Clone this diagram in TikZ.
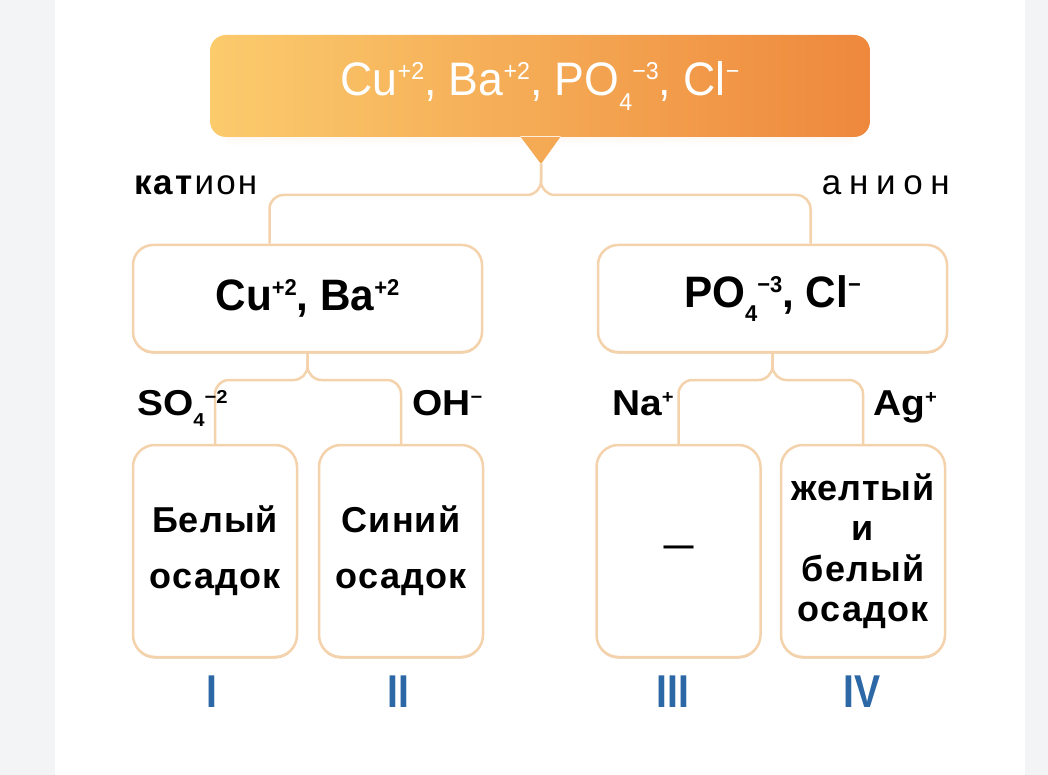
\documentclass[tikz,border=0pt]{standalone}
\usepackage{fontspec}
\setmainfont{Liberation Sans}
\newfontfamily\topfont[FakeStretch=0.95]{Liberation Sans}
\newfontfamily\midfont[FakeStretch=0.96]{Liberation Sans}
\newfontfamily\narrowfont[FakeStretch=0.85]{Liberation Sans}
\newfontfamily\spacedfont[LetterSpace=6]{Liberation Sans}
\newfontfamily\widespaced[LetterSpace=22]{Liberation Sans}
\newfontfamily\boxfont[LetterSpace=3]{Liberation Sans}
\newfontfamily\ionfont[FakeStretch=1.08]{Liberation Sans}
\usetikzlibrary{shadows}
\definecolor{bggray}{HTML}{F3F4F6}
\definecolor{boxline}{HTML}{F3D2AC}
\definecolor{boxshadow}{HTML}{EBC59C}
\definecolor{orL}{HTML}{FBCB6C}
\definecolor{orR}{HTML}{EE883C}
\definecolor{romanblue}{HTML}{2D68A6}
\makeatletter
\newcommand\upx[1]{\raisebox{0.33em}{\fontsize{\fpeval{0.52*\f@size}}{0}\selectfont #1}}
\newcommand\dnx[1]{\raisebox{-0.32em}{\fontsize{\fpeval{0.52*\f@size}}{0}\selectfont #1}}
\makeatother
\begin{document}
\begin{tikzpicture}[x=1pt,y=-1pt,
  conn/.style={draw=boxline,line width=2.5pt,rounded corners=14pt},
  boxshade/.style={general shadow={shadow yshift=-1.6pt,fill=boxshadow}},
  midbox/.style={draw=boxline,line width=2.5pt,fill=white,rounded corners=20pt,boxshade,
    minimum width=349pt,minimum height=107pt,inner sep=0pt,
    font={\midfont\bfseries\fontsize{44}{50}\selectfont}},
  lowbox/.style={draw=boxline,line width=2.5pt,fill=white,rounded corners=22pt,boxshade,
    minimum width=164pt,minimum height=212pt,inner sep=0pt,align=center,
    font={\boxfont\bfseries\fontsize{36}{56}\selectfont}},
  lab/.style={inner sep=0pt,font={\spacedfont\fontsize{35}{40}\selectfont}},
  ionlab/.style={inner sep=0pt,font={\ionfont\bfseries\fontsize{36}{40}\selectfont}},
  roman/.style={inner sep=0pt,text=romanblue,font={\narrowfont\bfseries\fontsize{46}{50}\selectfont}}]
\useasboundingbox (0,0) rectangle (1048,775);
\fill[bggray] (0,0) rectangle (1048,775);
\fill[white] (55,0) rectangle (1025,775);
% soft glow under the top box
\shade[top color=orR!10, bottom color=white, rounded corners=8pt] (226,130) rectangle (854,146);
% top box with pointer
\coordinate (tip) at (541,164);
\shade[left color=orL,right color=orR] [rounded corners=16pt] (210,35) rectangle (870,137)
  [sharp corners] (520,136) -- (561,136) -- (tip) -- cycle;
\node[minimum width=660pt,minimum height=102pt,inner sep=0pt,text=white,
  font={\topfont\fontsize{47}{50}\selectfont}] (top) at (540,86)
  {Cu\upx{+2}, Ba\upx{+2}, PO\dnx{4}\upx{−3}, Cl\upx{−}};
% middle boxes
\node[midbox] (cat) at (307.5,298.5) {Cu\upx{+2}, Ba\upx{+2}};
\node[midbox] (an) at (772.5,298.5) {PO\dnx{4}\upx{−3}, Cl\upx{−}};
% lower boxes
\node[lowbox] (b1) at (215,551) {Белый\\осадок};
\node[lowbox] (b2) at (401,551) {Синий\\осадок};
\node[lowbox,font={\bfseries\fontsize{30}{40}\selectfont}] (b3) at (678.5,551) {—};
\node[lowbox,font={\boxfont\bfseries\fontsize{36}{40.5}\selectfont}] (b4) at (863,551) {желтый\\и\\белый\\осадок};
% connectors
\coordinate (h1) at (0,195);
\coordinate (h2) at (0,380);
\draw[conn] (tip) |- ([xshift=-38pt]cat.north |- h1) -- ([xshift=-38pt]cat.north);
\draw[conn] (tip) |- ([xshift=38pt]an.north |- h1) -- ([xshift=38pt]an.north);
\draw[conn] (cat.south) |- (b1.north |- h2) -- (b1.north);
\draw[conn] (cat.south) |- (b2.north |- h2) -- (b2.north);
\draw[conn] (an.south) |- (b3.north |- h2) -- (b3.north);
\draw[conn] (an.south) |- (b4.north |- h2) -- (b4.north);
% labels
\node[lab,anchor=base west] (lcat) at (134,195) {\textbf{кат}ион};
\node[lab,anchor=base east,font={\widespaced\fontsize{35}{40}\selectfont}] (lan) at (950,195) {анион};
\node[ionlab,anchor=base west] (so4) at (137,415) {SO\dnx{4}\upx{−2}};
\node[ionlab,anchor=base west] (oh) at (412,415) {OH\upx{−}};
\node[ionlab,anchor=base west] (na) at (612,415) {Na\upx{+}};
\node[ionlab,anchor=base east] (ag) at (937,415) {Ag\upx{+}};
% roman numerals
\node[roman] (r1) at (212,692) {I};
\node[roman] (r2) at (398,692) {II};
\node[roman] (r3) at (673,692) {III};
\node[roman] (r4) at (862,692) {IV};
\end{tikzpicture}
\end{document}
